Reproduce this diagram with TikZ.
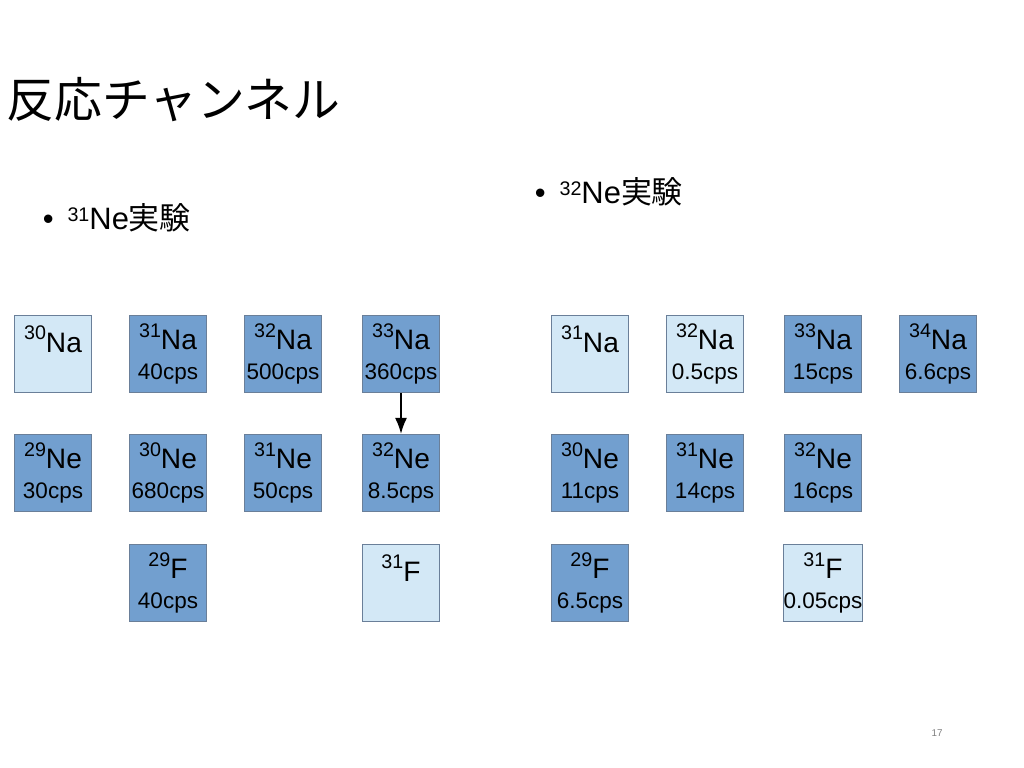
\documentclass[tikz,border=0pt]{standalone}
\usepackage{fontspec}
\setmainfont{Liberation Sans}
\newfontfamily\jpfont{Noto Sans CJK JP}
\usetikzlibrary{arrows.meta,positioning}
\definecolor{nucdark}{HTML}{729FCF}
\definecolor{nuclight}{HTML}{D3E8F6}
\definecolor{nucedge}{HTML}{6A7F99}
\newcommand{\iso}[2]{\raisebox{0.55em}{\fontsize{14}{14}\selectfont #1}{\fontsize{20}{20}\selectfont #2}}
\newcommand{\rate}[1]{{\fontsize{16}{16}\selectfont #1}}
\tikzset{
    nuc/.style      = {draw=nucedge, thick, minimum width=1.925cm, minimum height=1.925cm,
            inner sep=0pt, align=center, font=\fontsize{16}{21}\selectfont},
    seen/.style     = {nuc, fill=nucdark},
    unseen/.style   = {nuc, fill=nuclight},
    line/.style     = {-{Latex[length=4mm,width=3mm]}, very thick},
}
\begin{document}
\begin{tikzpicture}[x=0.025cm,y=-0.025cm]
    \useasboundingbox (0,0) rectangle (1024,768);
    % Title and bullets
    \node[anchor=west, font=\jpfont\fontsize{34}{34}\selectfont] (title) at (2,100) {反応チャンネル};
    \node[anchor=west, font=\fontsize{22}{22}\selectfont] (left) at (38,218) {•\, \raisebox{0.5ex}{\fontsize{14}{14}\selectfont 31}Ne{\jpfont 実験}};
    \node[anchor=west, font=\fontsize{22}{22}\selectfont] (right) at (530,192) {•\, \raisebox{0.5ex}{\fontsize{14}{14}\selectfont 32}Ne{\jpfont 実験}};
    % 31Ne experiment
    \node[unseen] (naA30) at (53,354)  {\iso{30}{Na}\\\rate{\phantom{0}}};
    \node[seen]   (naA31) at (168,354) {\iso{31}{Na}\\\rate{40cps}};
    \node[seen]   (naA32) at (283,354) {\iso{32}{Na}\\\rate{500cps}};
    \node[seen]   (naA33) at (401,354) {\iso{33}{Na}\\\rate{360cps}};
    \node[seen]   (neA29) at (53,473)  {\iso{29}{Ne}\\\rate{30cps}};
    \node[seen]   (neA30) at (168,473) {\iso{30}{Ne}\\\rate{680cps}};
    \node[seen]   (neA31) at (283,473) {\iso{31}{Ne}\\\rate{50cps}};
    \node[seen]   (neA32) at (401,473) {\iso{32}{Ne}\\\rate{8.5cps}};
    \node[seen]   (fA29)  at (168,583) {\iso{29}{F}\\\rate{40cps}};
    \node[unseen] (fA31)  at (401,583) {\iso{31}{F}\\\rate{\phantom{0}}};
    \draw[line] (naA33) -- (neA32);
    % 32Ne experiment
    \node[unseen] (naB31) at (590,354) {\iso{31}{Na}\\\rate{\phantom{0}}};
    \node[unseen] (naB32) at (705,354) {\iso{32}{Na}\\\rate{0.5cps}};
    \node[seen]   (naB33) at (823,354) {\iso{33}{Na}\\\rate{15cps}};
    \node[seen]   (naB34) at (938,354) {\iso{34}{Na}\\\rate{6.6cps}};
    \node[seen]   (neB30) at (590,473) {\iso{30}{Ne}\\\rate{11cps}};
    \node[seen]   (neB31) at (705,473) {\iso{31}{Ne}\\\rate{14cps}};
    \node[seen]   (neB32) at (823,473) {\iso{32}{Ne}\\\rate{16cps}};
    \node[seen]   (fB29)  at (590,583) {\iso{29}{F}\\\rate{6.5cps}};
    \node[unseen] (fB31)  at (823,583) {\iso{31}{F}\\\rate{0.05cps}};
    % page number
    \node[font=\fontsize{7}{7}\selectfont, text=gray] (page) at (937,733) {17};
\end{tikzpicture}
\end{document}
